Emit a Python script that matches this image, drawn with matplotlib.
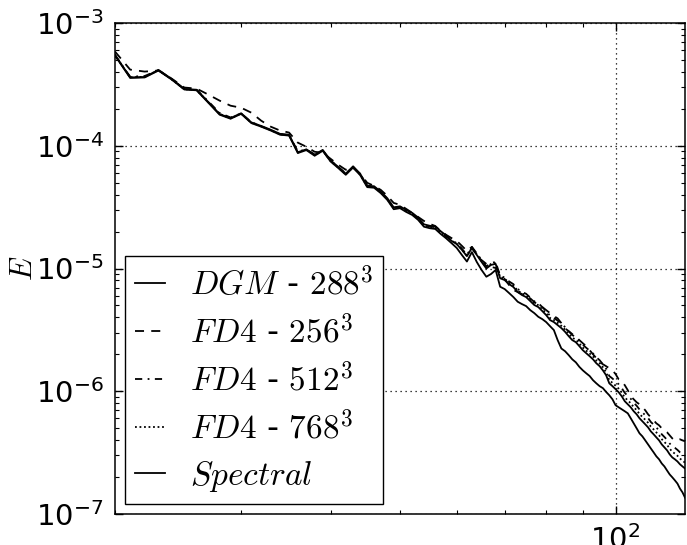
import numpy as np
import matplotlib
matplotlib.use("Agg")
import matplotlib.pyplot as plt
from matplotlib.ticker import LogLocator, NullFormatter

plt.rcParams['mathtext.fontset'] = 'cm'
plt.rcParams['axes.unicode_minus'] = False
plt.rcParams['font.family'] = ['DejaVu Sans']

# wavenumbers
k = np.arange(20, 126)

e_dgm = [5.50e-4, 3.60e-4, 3.63e-4, 4.15e-4, 3.50e-4, 2.90e-4, 2.86e-4, 2.27e-4, 1.81e-4, 1.68e-4,
         1.84e-4, 1.55e-4, 1.45e-4, 1.35e-4, 1.25e-4, 1.23e-4, 8.85e-5, 9.35e-5, 8.45e-5, 9.25e-5,
         7.60e-5, 6.72e-5, 5.92e-5, 6.80e-5, 5.90e-5, 4.72e-5, 4.68e-5, 4.23e-5, 3.74e-5, 3.15e-5,
         3.21e-5, 3.00e-5, 2.84e-5, 2.60e-5, 2.29e-5, 2.23e-5, 2.20e-5, 2.01e-5, 1.86e-5,
         1.68e-5, 1.58e-5, 1.42e-5, 1.26e-5, 1.47e-5, 1.29e-5, 1.13e-5, 1.00e-5, 1.07e-5, 1.09e-5,
         8.32e-6, 8.05e-6, 7.47e-6, 7.06e-6, 6.43e-6, 6.08e-6, 5.85e-6, 5.43e-6, 5.04e-6, 4.85e-6,
         4.50e-6, 4.17e-6, 3.80e-6, 3.66e-6, 3.46e-6, 3.27e-6, 3.05e-6, 2.81e-6, 2.61e-6, 2.51e-6,
         2.33e-6, 2.16e-6, 2.04e-6, 1.93e-6, 1.82e-6, 1.69e-6, 1.60e-6, 1.48e-6, 1.35e-6, 1.16e-6,
         1.10e-6, 1.04e-6, 9.81e-7, 9.10e-7, 8.29e-7, 7.83e-7, 7.40e-7, 6.87e-7, 6.49e-7, 6.02e-7,
         5.69e-7, 5.38e-7, 5.08e-7, 4.71e-7, 4.46e-7, 4.21e-7, 3.98e-7, 3.69e-7, 3.49e-7, 3.30e-7,
         3.06e-7, 2.89e-7, 2.79e-7, 2.68e-7, 2.54e-7, 2.44e-7, 2.35e-7]

e_fd256 = [5.85e-4, 4.17e-4, 4.02e-4, 4.10e-4, 3.52e-4, 2.98e-4, 2.92e-4, 2.61e-4, 2.33e-4, 2.12e-4,
           2.04e-4, 1.86e-4, 1.60e-4, 1.43e-4, 1.33e-4, 1.28e-4, 1.06e-4, 9.81e-5, 8.93e-5, 8.77e-5,
           7.83e-5, 7.00e-5, 6.37e-5, 6.61e-5, 5.91e-5, 4.99e-5, 4.71e-5, 4.37e-5, 3.91e-5, 3.42e-5,
           3.30e-5, 3.06e-5, 2.84e-5, 2.63e-5, 2.44e-5, 2.31e-5, 2.22e-5, 2.02e-5, 1.88e-5,
           1.77e-5, 1.68e-5, 1.53e-5, 1.39e-5, 1.50e-5, 1.26e-5, 1.17e-5, 1.09e-5, 1.03e-5, 1.01e-5,
           9.02e-6, 8.21e-6, 7.33e-6, 6.68e-6, 6.43e-6, 6.19e-6, 5.96e-6, 5.71e-6, 5.33e-6, 5.04e-6,
           4.85e-6, 4.58e-6, 4.33e-6, 4.10e-6, 3.92e-6, 3.59e-6, 3.25e-6, 3.09e-6, 2.92e-6, 2.78e-6,
           2.61e-6, 2.46e-6, 2.33e-6, 2.16e-6, 2.00e-6, 1.86e-6, 1.73e-6, 1.66e-6, 1.60e-6, 1.54e-6,
           1.48e-6, 1.38e-6, 1.25e-6, 1.21e-6, 1.12e-6, 1.02e-6, 9.10e-7, 8.60e-7, 8.13e-7, 7.83e-7,
           7.44e-7, 7.00e-7, 6.49e-7, 6.13e-7, 5.80e-7, 5.48e-7, 5.28e-7, 4.99e-7, 4.80e-7, 4.63e-7,
           4.37e-7, 4.13e-7, 3.98e-7, 3.98e-7, 4.06e-7, 3.98e-7, 3.91e-7]

e_fd512 = [5.47e-4, 3.65e-4, 3.70e-4, 4.12e-4, 3.48e-4, 2.89e-4, 2.85e-4, 2.30e-4, 1.85e-4, 1.70e-4,
           1.83e-4, 1.56e-4, 1.44e-4, 1.34e-4, 1.24e-4, 1.22e-4, 9.00e-5, 9.30e-5, 8.50e-5, 9.15e-5,
           7.55e-5, 6.70e-5, 5.95e-5, 6.70e-5, 5.85e-5, 4.70e-5, 4.62e-5, 4.18e-5, 3.70e-5, 3.12e-5,
           3.17e-5, 2.96e-5, 2.80e-5, 2.56e-5, 2.26e-5, 2.20e-5, 2.17e-5, 1.97e-5, 1.82e-5,
           1.70e-5, 1.61e-5, 1.45e-5, 1.29e-5, 1.50e-5, 1.33e-5, 1.17e-5, 1.04e-5, 1.11e-5, 1.13e-5,
           8.70e-6, 8.45e-6, 7.85e-6, 7.45e-6, 6.80e-6, 6.45e-6, 6.22e-6, 5.80e-6, 5.40e-6, 5.22e-6,
           4.85e-6, 4.50e-6, 4.12e-6, 3.97e-6, 3.76e-6, 3.56e-6, 3.33e-6, 3.08e-6, 2.87e-6, 2.76e-6,
           2.57e-6, 2.39e-6, 2.26e-6, 2.14e-6, 2.03e-6, 1.89e-6, 1.79e-6, 1.66e-6, 1.53e-6, 1.33e-6,
           1.27e-6, 1.20e-6, 1.14e-6, 1.06e-6, 9.70e-7, 9.15e-7, 8.68e-7, 8.05e-7, 7.62e-7, 7.10e-7,
           6.72e-7, 6.38e-7, 6.05e-7, 5.62e-7, 5.35e-7, 5.06e-7, 4.80e-7, 4.46e-7, 4.24e-7, 4.02e-7,
           3.75e-7, 3.56e-7, 3.46e-7, 3.33e-7, 3.18e-7, 3.07e-7, 2.98e-7]

e_fd768 = [5.45e-4, 3.62e-4, 3.64e-4, 4.13e-4, 3.47e-4, 2.88e-4, 2.84e-4, 2.26e-4, 1.82e-4, 1.67e-4,
           1.83e-4, 1.54e-4, 1.44e-4, 1.34e-4, 1.24e-4, 1.22e-4, 8.80e-5, 9.28e-5, 8.36e-5, 9.15e-5,
           7.50e-5, 6.64e-5, 5.86e-5, 6.70e-5, 5.82e-5, 4.65e-5, 4.60e-5, 4.16e-5, 3.67e-5, 3.09e-5,
           3.14e-5, 2.93e-5, 2.77e-5, 2.53e-5, 2.23e-5, 2.17e-5, 2.14e-5, 1.95e-5, 1.80e-5,
           1.69e-5, 1.59e-5, 1.43e-5, 1.27e-5, 1.48e-5, 1.31e-5, 1.15e-5, 1.02e-5, 1.09e-5, 1.11e-5,
           8.50e-6, 8.25e-6, 7.66e-6, 7.25e-6, 6.62e-6, 6.27e-6, 6.03e-6, 5.61e-6, 5.21e-6, 5.02e-6,
           4.66e-6, 4.33e-6, 3.95e-6, 3.81e-6, 3.60e-6, 3.41e-6, 3.18e-6, 2.94e-6, 2.73e-6, 2.63e-6,
           2.45e-6, 2.27e-6, 2.14e-6, 2.03e-6, 1.92e-6, 1.78e-6, 1.69e-6, 1.57e-6, 1.43e-6, 1.23e-6,
           1.17e-6, 1.11e-6, 1.05e-6, 9.75e-7, 8.90e-7, 8.42e-7, 7.98e-7, 7.42e-7, 7.02e-7, 6.52e-7,
           6.18e-7, 5.86e-7, 5.54e-7, 5.15e-7, 4.89e-7, 4.62e-7, 4.38e-7, 4.07e-7, 3.86e-7, 3.66e-7,
           3.40e-7, 3.22e-7, 3.10e-7, 2.98e-7, 2.83e-7, 2.72e-7, 2.62e-7]

e_spectral = [5.43e-4, 3.57e-4, 3.60e-4, 4.10e-4, 3.46e-4, 2.87e-4, 2.83e-4, 2.24e-4, 1.79e-4, 1.66e-4,
              1.82e-4, 1.53e-4, 1.43e-4, 1.33e-4, 1.23e-4, 1.21e-4, 8.72e-5, 9.22e-5, 8.29e-5, 9.10e-5,
              7.44e-5, 6.58e-5, 5.80e-5, 6.65e-5, 5.75e-5, 4.60e-5, 4.55e-5, 4.11e-5, 3.62e-5, 3.04e-5,
              3.10e-5, 2.89e-5, 2.73e-5, 2.49e-5, 2.19e-5, 2.13e-5, 2.10e-5, 1.91e-5, 1.76e-5,
              1.61e-5, 1.47e-5, 1.29e-5, 1.14e-5, 1.36e-5, 1.13e-5, 9.72e-6, 8.57e-6, 9.02e-6, 9.72e-6,
              7.10e-6, 6.80e-6, 6.31e-6, 5.85e-6, 5.36e-6, 5.13e-6, 4.94e-6, 4.58e-6, 4.33e-6, 4.04e-6,
              3.87e-6, 3.66e-6, 3.39e-6, 3.15e-6, 2.61e-6, 2.23e-6, 2.12e-6, 1.97e-6, 1.82e-6, 1.72e-6,
              1.58e-6, 1.48e-6, 1.40e-6, 1.33e-6, 1.23e-6, 1.16e-6, 1.10e-6, 1.06e-6, 9.87e-7, 9.27e-7,
              8.60e-7, 7.69e-7, 7.40e-7, 7.13e-7, 6.87e-7, 6.61e-7, 6.02e-7, 5.48e-7, 4.99e-7, 4.54e-7,
              4.29e-7, 3.98e-7, 3.69e-7, 3.42e-7, 3.18e-7, 2.95e-7, 2.79e-7, 2.58e-7, 2.44e-7, 2.26e-7,
              2.10e-7, 1.99e-7, 1.88e-7, 1.77e-7, 1.61e-7, 1.50e-7, 1.36e-7]

labels = [r'$DGM$ - $288^3$', r'$FD4$ - $256^3$', r'$FD4$ - $512^3$',
          r'$FD4$ - $768^3$', r'$Spectral$']

fig = plt.figure(figsize=(6.87, 5.45), dpi=100)
ax = fig.add_axes([115/687, 31/545, 570/687, 491/545])

lw = 1.3
ax.loglog(k, e_dgm, color='black', lw=lw, ls='-', label=labels[0])
ax.loglog(k, e_fd256, color='black', lw=lw, ls=(0, (5, 4)), label=labels[1])
ax.loglog(k, e_fd512, color='black', lw=lw, ls=(0, (4, 3, 1, 3)), label=labels[2])
ax.loglog(k, e_fd768, color='black', lw=lw, ls=(0, (1, 1.5)), label=labels[3])
ax.loglog(k, e_spectral, color='black', lw=lw, ls='-', label=labels[4])

ax.set_xlim(20, 125)
ax.set_ylim(1e-7, 1e-3)
ax.yaxis.set_major_locator(LogLocator(base=10, numticks=10))
ax.yaxis.set_minor_locator(LogLocator(base=10, subs=np.arange(2, 10), numticks=20))
ax.xaxis.set_minor_formatter(NullFormatter())
ax.yaxis.set_minor_formatter(NullFormatter())

ax.grid(True, which='major', color='black', linestyle=(0, (1, 3)), linewidth=0.9)
ax.tick_params(which='both', direction='in', top=True, right=True, labelsize=21, pad=8)
ax.tick_params(which='major', length=6, width=1)
ax.tick_params(which='minor', length=3, width=0.8)
for s in ax.spines.values():
    s.set_linewidth(1.1)

ax.set_ylabel(r'$E$', fontsize=22)
ax.yaxis.set_label_coords(-0.135, 0.5)

leg = ax.legend(loc='lower left', bbox_to_anchor=(0.0, 0.0), fontsize=24,
                handlelength=0.9, handletextpad=0.75, labelspacing=0.4,
                borderpad=0.3, borderaxespad=0.3, fancybox=False, framealpha=1)
leg.get_frame().set_edgecolor('black')
leg.get_frame().set_linewidth(1.0)

fig.savefig('out.png', dpi=100)
